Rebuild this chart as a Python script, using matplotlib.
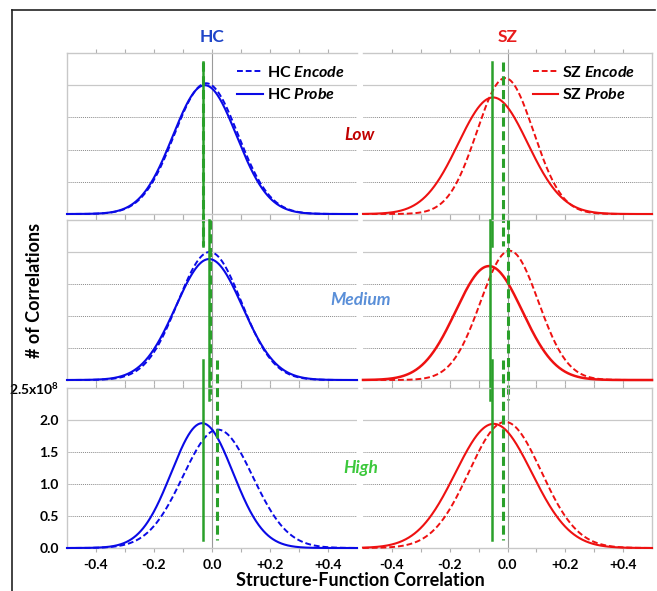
import numpy as np
import matplotlib
matplotlib.use('Agg')
import matplotlib.pyplot as plt
from matplotlib.lines import Line2D

matplotlib.rc('font', family=['Lato', 'DejaVu Sans'], weight='bold')
matplotlib.rcParams['mathtext.fontset'] = 'custom'
matplotlib.rcParams['mathtext.rm'] = 'Lato:bold'
matplotlib.rcParams['mathtext.it'] = 'Lato:bold:italic'
matplotlib.rcParams['mathtext.bf'] = 'Lato:bold'

# rows: Low, Medium, High ; columns: HC, SZ
levels = ['Low', 'Medium', 'High']
groups = ['HC', 'SZ']
# fitted distribution parameters (x10^8 counts)
enc_mean = {'HC': [-0.020, -0.008, 0.020], 'SZ': [-0.008, 0.007, -0.008]}
enc_sd = {'HC': [0.110, 0.110, 0.120], 'SZ': [0.098, 0.100, 0.125]}
enc_peak = {'HC': [2.03, 2.00, 1.85], 'SZ': [2.11, 2.02, 1.97]}
prb_mean = {'HC': [-0.025, -0.010, -0.034], 'SZ': [-0.050, -0.064, -0.048]}
prb_sd = {'HC': [0.110, 0.115, 0.106], 'SZ': [0.120, 0.115, 0.132]}
prb_peak = {'HC': [2.00, 1.89, 1.95], 'SZ': [1.81, 1.78, 1.94]}
# green lines = group means
enc_line = {'HC': [-0.030, -0.008, 0.018], 'SZ': [-0.014, 0.003, -0.014]}
prb_line = {'HC': [-0.030, -0.011, -0.030], 'SZ': [-0.052, -0.062, -0.052]}

xticks = [-0.4, -0.3, -0.2, -0.1, 0.0, 0.1, 0.2, 0.3, 0.4]
xticklabels = ['-0.4', '', '-0.2', '', '0.0', '', '+0.2', '', '+0.4']
yticks = [0.0, 0.5, 1.0, 1.5, 2.0, 2.5]
yticklabels = ['0.0', '0.5', '1.0', '1.5', '2.0', '2.5x10$^8$']

col_color = {'HC': '#0a0ae6', 'SZ': '#ee1111'}
title_color = {'HC': '#1f45c8', 'SZ': '#e81c1c'}
level_color = {'Low': '#c00000', 'Medium': '#5a8fd8', 'High': '#3cc83c'}
green = '#2aa02a'
line_span = [(2.36, -0.5), (2.5, -0.31), (2.94, 0.12)]

W, H = 657, 591
fig = plt.figure(figsize=(W / 100, H / 100), dpi=100)

def px(x0, y0, x1, y1):
    return [x0 / W, 1 - y1 / H, (x1 - x0) / W, (y1 - y0) / H]

col_px = {'HC': (67, 357), 'SZ': (363, 652)}
row_px = [(53, 214), (220, 380), (388, 548)]

x = np.linspace(-0.5, 0.5, 500)
for r, lev in enumerate(levels):
    for g in groups:
        ax = fig.add_axes(px(col_px[g][0], row_px[r][0], col_px[g][1], row_px[r][1]))
        ax.patch.set_alpha(0)
        c = col_color[g]
        enc = enc_peak[g][r] * np.exp(-0.5 * ((x - enc_mean[g][r]) / enc_sd[g][r]) ** 2)
        prb = prb_peak[g][r] * np.exp(-0.5 * ((x - prb_mean[g][r]) / prb_sd[g][r]) ** 2)
        ax.plot(x, enc, color=c, lw=1.4, ls=(0, (3, 1.5)), clip_on=False, zorder=4,
                label=g + ' $\\mathit{Encode}$')
        ax.plot(x, prb, color=c, lw=1.8 if (g == 'SZ' and r == 1) else 1.5,
                clip_on=False, zorder=4, label=g + ' $\\mathit{Probe}$')
        y0, y1 = line_span[r]
        ax.plot([prb_line[g][r]] * 2, [y0, y1], color=green, lw=1.8,
                clip_on=False, zorder=5)
        ax.plot([enc_line[g][r]] * 2, [y0, y1], color=green, lw=2.2,
                ls=(0, (3, 1.5)), clip_on=False, zorder=5)

        ax.set_xlim(-0.5, 0.5)
        ax.set_ylim(0, 2.5)
        ax.axvline(0, color='#9a9a9a', lw=0.8, zorder=1)
        ax.axhline(2.0, color='#c8c8c8', lw=0.9, zorder=1)
        for yy in [0.5, 1.0, 1.5]:
            ax.axhline(yy, color='#8a8a8a', lw=0.7, ls=(0, (1, 1)), zorder=1)
        for s in ax.spines.values():
            s.set_color('#c8c8c8')
            s.set_linewidth(1.0)
        if g == 'HC':
            ax.spines['right'].set_visible(False)
        else:
            ax.spines['left'].set_visible(False)

        ax.set_xticks(xticks)
        ax.tick_params(axis='x', which='both', top=True, bottom=True,
                       length=3, color='#b0b0b0', width=0.8, pad=5)
        if r == 2:
            ax.set_xticklabels(xticklabels, fontsize=10, fontweight='bold')
        else:
            ax.set_xticklabels([])
        ax.set_yticks(yticks)
        ax.tick_params(axis='y', length=0, pad=6)
        if r == 2 and g == 'HC':
            ax.set_yticklabels(yticklabels, fontsize=10, fontweight='bold')
        else:
            ax.set_yticklabels([])

        if r == 0:
            ax.legend(loc='upper left', bbox_to_anchor=(0.565, 0.965), frameon=False,
                      fontsize=11.5, handlelength=1.6, handletextpad=0.25,
                      labelspacing=0.45, borderaxespad=0)
            ax.set_title(g, color=title_color[g], fontsize=12.5, fontweight='bold', pad=8)

level_pos = [(360, 135), (361, 300), (361, 468)]
for lev, (lx, ly) in zip(levels, level_pos):
    fig.text(lx / W, 1 - ly / H, lev, color=level_color[lev], fontsize=12.5,
             fontweight='bold', style='italic', ha='center', va='center')

fig.text(35 / W, 1 - 290 / H, '# of Correlations', rotation=90, fontsize=13,
         fontweight='bold', ha='center', va='center')
fig.text(360 / W, 1 - 580 / H, 'Structure-Function Correlation', fontsize=13,
         fontweight='bold', ha='center', va='center')

# outer frame (top and left edges)
fig.add_artist(Line2D([12 / W, 12 / W], [0, 1 - 10 / H], color='#222222', lw=1.2))
fig.add_artist(Line2D([12 / W, 655 / W], [1 - 10 / H, 1 - 10 / H], color='#222222', lw=1.2))

plt.savefig('out.png', dpi=100)
